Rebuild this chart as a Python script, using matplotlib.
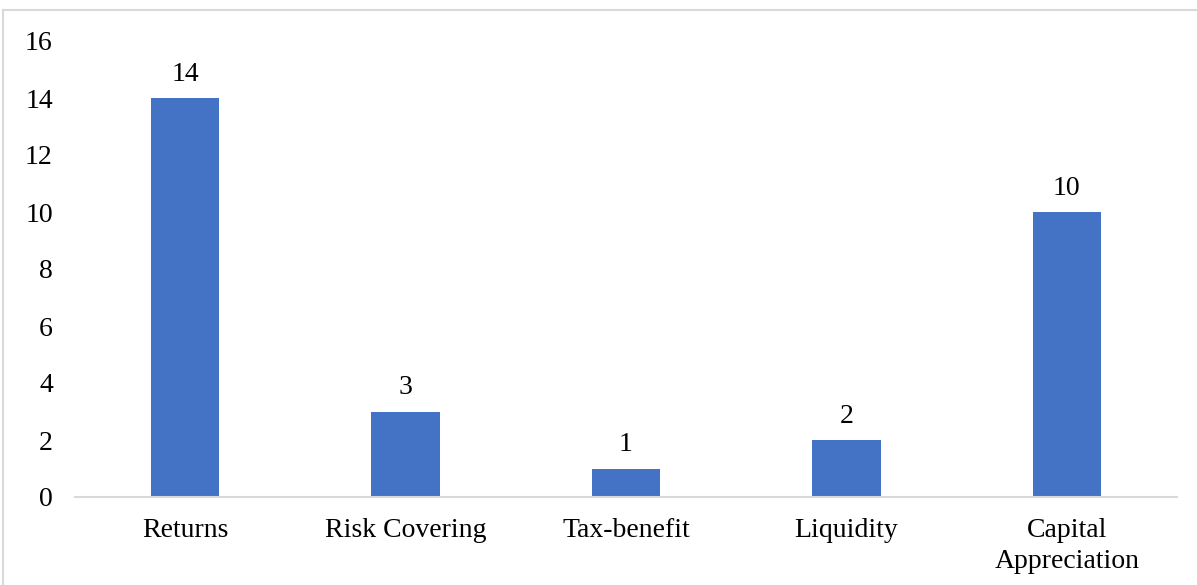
import matplotlib
matplotlib.use("Agg")
import matplotlib.pyplot as plt
from matplotlib.lines import Line2D

categories = ["Returns", "Risk Covering", "Tax-benefit", "Liquidity", "Capital\nAppreciation"]
counts = [14, 3, 1, 2, 10]
yticks = [0, 2, 4, 6, 8, 10, 12, 14, 16]

plt.rcParams["font.family"] = ["Liberation Serif", "DejaVu Serif"]
FS = 20

W, H = 1197, 585
fig = plt.figure(figsize=(W / 100, H / 100), dpi=100)
ax = fig.add_axes([75 / W, 1 - 497 / H, 1102 / W, 456 / H])

x = list(range(len(categories)))
bars = ax.bar(x, counts, width=0.31, color="#4472C4", zorder=2)
for b, v in zip(bars, counts):
    ax.annotate(str(v), (b.get_x() + b.get_width() / 2, v), xytext=(0, 8),
                textcoords="offset points", ha="center", va="bottom", fontsize=FS)

ax.set_xlim(-0.5, len(categories) - 0.5)
ax.set_ylim(0, 16)
ax.set_yticks(yticks)
ax.set_xticks(x)
ax.set_xticklabels(categories, fontsize=FS, linespacing=1.3)
ax.tick_params(axis="y", length=0, pad=16, labelsize=FS)
ax.tick_params(axis="x", length=0, pad=15)
for s in ["top", "right", "left"]:
    ax.spines[s].set_visible(False)
ax.spines["bottom"].set_color("#d9d9d9")
ax.spines["bottom"].set_linewidth(1.5)

# light chart-area frame
fig.add_artist(Line2D([3 / W, 1], [1 - 10 / H, 1 - 10 / H], transform=fig.transFigure,
                      color="#d9d9d9", lw=1.5))
fig.add_artist(Line2D([3 / W, 3 / W], [0, 1 - 10 / H], transform=fig.transFigure,
                      color="#d9d9d9", lw=1.5))

fig.savefig("out.png", dpi=100)
